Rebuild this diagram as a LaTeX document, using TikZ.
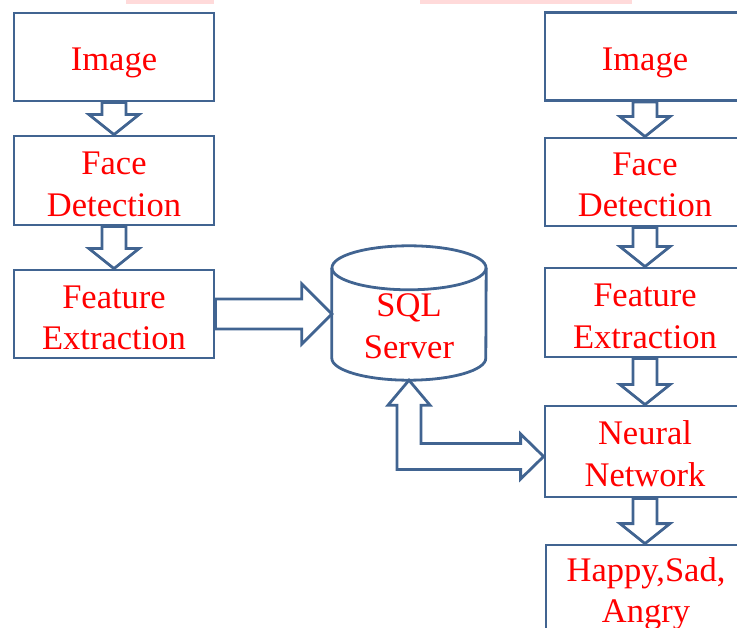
\documentclass[tikz,border=0pt]{standalone}
\usepackage{fontspec}
\setmainfont{Liberation Serif}
\usetikzlibrary{calc}

\definecolor{boxblue}{RGB}{65,100,145}
\definecolor{labelred}{RGB}{255,0,0}
\definecolor{fadepink}{RGB}{255,218,218}

\tikzset{
  outline/.style={draw=boxblue, line width=2.8pt, line join=miter},
  steptext/.style={text=labelred, align=center, inner sep=0pt,
    font=\fontsize{34.5}{41.5}\selectfont},
  stepbox/.style={outline, rectangle, minimum width=200, inner sep=0pt},
  blockarrow/.style={outline, fill=white},
}

% hollow block arrow pointing down from the bottom of #1 to the top of #2
\newcommand\flowdown[2]{%
  \draw[blockarrow] let \p1=(#1.south), \p2=(#2.north) in
    (\x1-12pt,\y1) -- (\x1-12pt,\y2+20pt) -- (\x1-25pt,\y2+20pt) --
    (\x1,\y2) -- (\x1+25pt,\y2+20pt) -- (\x1+12pt,\y2+20pt) --
    (\x1+12pt,\y1) -- cycle;}

\begin{document}
\begin{tikzpicture}[x=1pt,y=-1pt]
  \useasboundingbox (0,0) rectangle (737,628);
  \clip (0,0) rectangle (737,628);

  % faint strips along the top edge
  \fill[fadepink] (126,0) rectangle (214,4);
  \fill[fadepink] (420,0) rectangle (632,4);

  % left pipeline
  \node[stepbox, minimum height=88,
    label={[steptext, yshift=-6pt]center:Image}] (imgL) at (114,57) {};
  \node[stepbox, minimum height=89,
    label={[steptext, yshift=-4pt]center:{Face\\Detection}}] (faceL) at (114,180.5) {};
  \node[stepbox, minimum height=88,
    label={[steptext, yshift=-4pt]center:{Feature\\Extraction}}] (featL) at (114,314) {};

  % right pipeline
  \node[stepbox, minimum height=88,
    label={[steptext, yshift=-6pt]center:Image}] (imgR) at (645,56.5) {};
  \node[stepbox, minimum height=88,
    label={[steptext, yshift=-3pt]center:{Face\\Detection}}] (faceR) at (645,182) {};
  \node[stepbox, minimum height=89,
    label={[steptext, yshift=-4pt]center:{Feature\\Extraction}}] (featR) at (645,312.5) {};
  \node[stepbox, minimum height=91,
    label={[steptext, yshift=-2pt]center:{Neural\\Network}}] (nn) at (645,451.5) {};
  \node[stepbox, minimum height=92,
    label={[steptext, yshift=-3pt]center:{Happy,Sad,\\Angry}}] (emo) at (646,591) {};

  % database cylinder
  \node[minimum width=154, minimum height=90, inner sep=0pt] (sql) at (409,313) {};
  \draw[outline] (sql.north) ellipse [x radius=77pt, y radius=22pt];
  \draw[outline] (sql.north west) -- (sql.south west)
    arc[start angle=180, end angle=360, x radius=77pt, y radius=22pt]
    -- (sql.north east);
  \node[steptext] (sqllabel) at (409,326) {SQL\\Server};

  % vertical flow arrows
  \flowdown{imgL}{faceL}
  \flowdown{faceL}{featL}
  \flowdown{imgR}{faceR}
  \flowdown{faceR}{featR}
  \flowdown{featR}{nn}
  \flowdown{nn}{emo}

  % features stored in the database
  \draw[blockarrow] let \p1=(featL.east), \p2=(sql.west) in
    (\x1,\y1+15pt) -- (\x2-30pt,\y1+15pt) -- (\x2-30pt,\y1+30pt) --
    (\x2,\y1) -- (\x2-30pt,\y1-30pt) -- (\x2-30pt,\y1-15pt) --
    (\x1,\y1-15pt) -- cycle;

  % two-way link between database and network
  \draw[blockarrow] let \p1=(sql.south), \p2=(nn.west) in
    (\x1,\y1-22pt) -- (\x1+21pt,\y1-47pt) -- (\x1+12pt,\y1-47pt) --
    (\x1+12pt,\y2+8pt) -- (\x2-23pt,\y2+8pt) -- (\x2-23pt,\y2+17.5pt) --
    (\x2,\y2-5pt) -- (\x2-23pt,\y2-27.5pt) -- (\x2-23pt,\y2-18pt) --
    (\x1-12pt,\y2-18pt) -- (\x1-12pt,\y1-47pt) -- (\x1-21pt,\y1-47pt) -- cycle;
\end{tikzpicture}
\end{document}
